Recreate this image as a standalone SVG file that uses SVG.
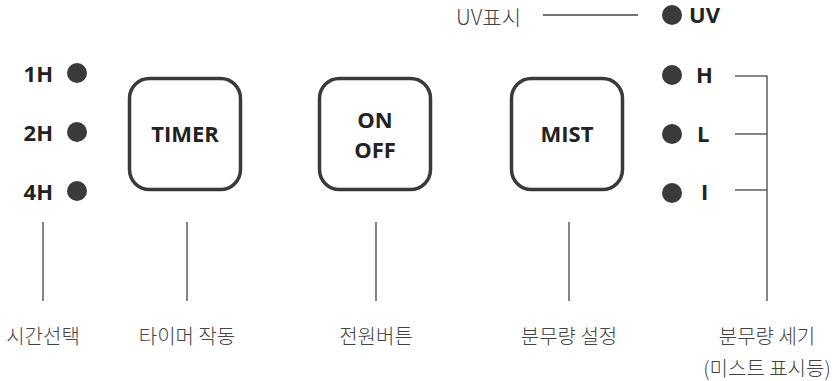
<svg xmlns="http://www.w3.org/2000/svg" width="840" height="381" viewBox="0 0 840 381">
<style>
.btn{fill:#fff;stroke:#3a3a3a;stroke-width:3.5}
.dot{fill:#3a3a3a}
.b{font-family:"Open Sans","Noto Sans","Liberation Sans",sans-serif;font-weight:700;font-size:22px;fill:#222}
.lbl{font-family:"Noto Sans CJK KR","Noto Sans",sans-serif;font-weight:300;font-size:20px;fill:#444}
.ln{stroke:#444;stroke-width:1.3;fill:none}
</style>
<rect width="840" height="381" fill="#fff"/>
<g id="time-leds">
<text class="b" x="53" y="82" text-anchor="end">1H</text>
<circle class="dot" cx="77" cy="73" r="10"/>
<text class="b" x="53" y="141" text-anchor="end">2H</text>
<circle class="dot" cx="77" cy="132" r="10"/>
<text class="b" x="53" y="200" text-anchor="end">4H</text>
<circle class="dot" cx="77" cy="191" r="10"/>
</g>
<g id="timer">
<rect class="btn" x="129.5" y="78.5" width="111" height="111" rx="20"/>
<text class="b" x="185" y="142" text-anchor="middle">TIMER</text>
</g>
<g id="onoff">
<rect class="btn" x="319.5" y="78.5" width="111" height="111" rx="20"/>
<text class="b" x="375" y="128" text-anchor="middle">ON</text>
<text class="b" x="375" y="158" text-anchor="middle">OFF</text>
</g>
<g id="mist">
<rect class="btn" x="511.5" y="78.5" width="111" height="111" rx="20"/>
<text class="b" x="567" y="142" text-anchor="middle">MIST</text>
</g>
<g id="uv">
<text class="lbl" x="456" y="25" style="font-size:21px">UV표시</text>
<circle class="dot" cx="672" cy="15" r="10"/>
<text class="b" x="689" y="23">UV</text>
</g>
<g id="mist-leds">
<circle class="dot" cx="672" cy="75" r="10"/>
<text class="b" x="696" y="83">H</text>
<circle class="dot" cx="672" cy="134" r="10"/>
<text class="b" x="697" y="142">L</text>
<circle class="dot" cx="672" cy="193" r="10"/>
<text class="b" x="701" y="200">I</text>
</g>
<g id="connectors">
<line class="ln" x1="543" y1="15" x2="638" y2="15"/>
<line class="ln" x1="735" y1="76" x2="767" y2="76"/>
<line class="ln" x1="735" y1="134" x2="767" y2="134"/>
<line class="ln" x1="735" y1="190" x2="767" y2="190"/>
<line class="ln" x1="767" y1="75.4" x2="767" y2="301"/>
<line class="ln" x1="43" y1="222" x2="43" y2="301"/>
<line class="ln" x1="187" y1="222" x2="187" y2="301"/>
<line class="ln" x1="376" y1="222" x2="376" y2="301"/>
<line class="ln" x1="569" y1="222" x2="569" y2="301"/>
</g>
<g id="labels">
<text class="lbl" x="43" y="344" text-anchor="middle">시간선택</text>
<text class="lbl" x="187" y="344" text-anchor="middle">타이머 작동</text>
<text class="lbl" x="376" y="344" text-anchor="middle">전원버튼</text>
<text class="lbl" x="569" y="344" text-anchor="middle">분무량 설정</text>
<text class="lbl" x="767" y="344" text-anchor="middle">분무량 세기</text>
<text class="lbl" x="767" y="376" text-anchor="middle">(미스트 표시등)</text>
</g>
</svg>
